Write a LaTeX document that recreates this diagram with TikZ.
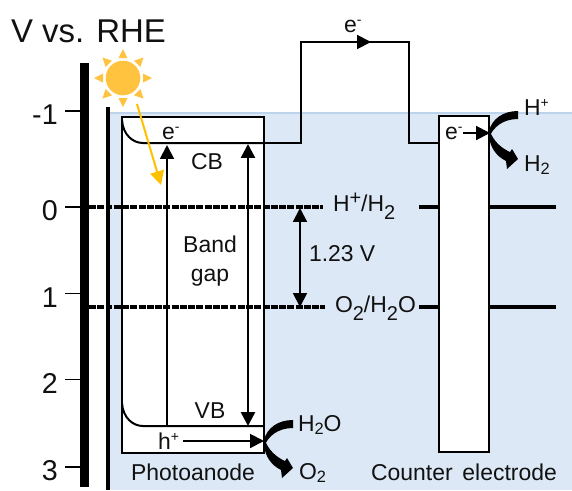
\documentclass[tikz,border=0pt]{standalone}
\usepackage{fontspec}
\setmainfont{Liberation Sans}
\usetikzlibrary{arrows.meta}
\definecolor{bgblue}{HTML}{DCE8F5}
\definecolor{edgeblue}{HTML}{BDD3EC}
\definecolor{sunfill}{HTML}{FFC33F}
\definecolor{rayarrow}{HTML}{FFC000}
\definecolor{inkk}{HTML}{111111}
\newcommand{\sbBig}[1]{\raisebox{-6pt}{\fontsize{15}{15}\selectfont #1}}
\newcommand{\spBig}[1]{\raisebox{5pt}{\fontsize{15}{15}\selectfont #1}}
\newcommand{\sbSm}[1]{\raisebox{-2.4pt}{\fontsize{12.3}{12}\selectfont #1}}
\newcommand{\spSm}[1]{\raisebox{5.4pt}{\fontsize{10.5}{12}\selectfont #1}}
\tikzset{
  wire/.style={draw=black,line width=1.5pt},
  txt/.style={font=\fontsize{17.2}{20}\selectfont,text=inkk,inner sep=0pt,outer sep=0pt},
  ticklab/.style={font=\fontsize{21.5}{24}\selectfont,text=inkk,inner sep=0pt,anchor=east},
  tickmark/.style={draw=black,line width=1.3pt},
  level/.style={draw=black,line width=2.6pt,dash pattern=on 5.2pt off 1pt},
  finelevel/.style={draw=black,line width=2.6pt},
  tip/.style={-{Triangle[length=10.4pt,width=10.4pt]}},
  bothtip/.style={{Triangle[length=10.4pt,width=10.4pt]}-{Triangle[length=10.4pt,width=10.4pt]}},
  boxnode/.style={draw=black,line width=1.5pt,fill=white,inner sep=0pt,outer sep=0pt},
  redox/.pic={
    \fill[black] (293,420) .. controls (278,420) and (267,428) .. (264,440)
      -- (264,447) .. controls (268,436) and (278,428) .. (293,428) -- cycle;
    \fill[black] (264,438) -- (264,445) .. controls (265,456) and (271,465) .. (281,470)
      -- (282,478) -- (293,468) -- (287,458) -- (285,461)
      .. controls (276,457) and (268,450) .. (264,438) -- cycle;
  }
}
\begin{document}
\begin{tikzpicture}[x=.75pt,y=-.75pt]
\useasboundingbox (0,0) rectangle (572,490);
% background
\fill[bgblue] (109,113) rectangle (572,490);
\draw[edgeblue,line width=1pt] (109,490) -- (109,113) -- (572,113);
% axes
\fill[black] (80,63) rectangle (89,487);
\coordinate (thinTop) at (108,107);
\coordinate (thinBot) at (108,490);
\draw[black,line width=2.4pt] (thinTop) -- (thinBot);
% ticks
\foreach \n/\y/\t in {m/111/-1,z/207/0,o/293.5/1,t/379.5/2,h/467/3}{
  \coordinate (tick\n) at (80,\y);
  \node[ticklab] (lab\n) at (58,\y+4) {\t};
  \draw[tickmark] (tick\n) -- ++(-15,0);
}
% boxes
\node[boxnode,minimum width=106.5pt,minimum height=252pt] (pa) at (193,285) {};
\node[boxnode,minimum width=37.5pt,minimum height=252pt] (ce) at (464,284) {};
% bands
\coordinate (cbL) at (143,143);
\coordinate (vbL) at (143,426);
\coordinate (cbR) at (264,143);
\coordinate (vbR) at (264,426);
\draw[wire] (122,120) .. controls (123,135) and (133,143) .. (cbL) -- (cbR);
\draw[wire] (122,403) .. controls (123,418) and (133,426) .. (vbL) -- (vbR);
% external wire
\coordinate (w1) at (301,143);
\coordinate (w2) at (301,42);
\coordinate (w3) at (409,42);
\coordinate (w4) at (409,143);
\coordinate (ceIn) at (439,143);
\coordinate (wMid) at (371,42);
\draw[wire] (cbR) -- (w1) -- (w2) -- (w3) -- (w4) -- (ceIn);
\draw[wire,tip] (w2) -- (wMid);
% levels
\coordinate (l0a) at (89,207); \coordinate (l0b) at (323,207);
\coordinate (l1a) at (89,307); \coordinate (l1b) at (325,307);
\draw[level] (l0a) -- (l0b);
\draw[level] (l1a) -- (l1b);
\draw[finelevel] (419,207) -- (ce.west |- l0a);
\draw[finelevel] (419,307) -- (ce.west |- l1a);
\draw[finelevel] (ce.east |- l0a) -- (556,207);
\draw[finelevel] (ce.east |- l1a) -- (556,307);
% vertical arrows
\coordinate (a1) at (167,426); \coordinate (a1t) at (167,145);
\draw[wire,tip] (a1) -- (a1t);
\coordinate (a2t) at (248,144); \coordinate (a2b) at (248,426);
\draw[black,line width=1.9pt,bothtip] (a2t) -- (a2b);
\coordinate (v0) at (300,208); \coordinate (v1) at (300,307);
\draw[wire,bothtip] (v0) -- (v1);
% sun
\fill[white] (123,78) circle (20);
\fill[sunfill] (123,78) circle (17.3);
\foreach \r in {0,45,...,315}{
  \fill[sunfill,rotate around={\r:(123,78)}] (118.5,58) -- (127.5,58) -- (123,49) -- cycle;
}
% sun ray
\coordinate (s1) at (137,104); \coordinate (s2) at (161,185);
\draw[draw=rayarrow,fill=rayarrow,line width=1.5pt,tip] (s1) -- (s2);
% labels
\node[txt,font=\fontsize{24.7}{28}\selectfont] (title) at (88.5,31) {V vs. RHE};
\node[txt,anchor=base west] (eCB) at (162,139) {e\spSm{-}};
\node[txt] (cb) at (207,162) {CB};
\node[txt] (vb) at (210,411) {VB};
\node[txt] (band) at (210,244) {Band};
\node[txt] (gap) at (210,278) {gap};
\node[txt,anchor=base west] (hplus) at (158,449) {h\spSm{+}};
\coordinate (hEnd) at (264,441);
\draw[wire,tip] (183,441) -- (hEnd);
\node[txt] (photo) at (193,472) {Photoanode};
\node[txt] (counter) at (464,472) {Counter\hspace{.15em} electrode};
\node[txt,anchor=base west] (eTop) at (344,32) {e\spSm{-}};
\node[txt,anchor=base west] (eCE) at (445,139) {e\spSm{-}};
\coordinate (eEnd) at (490,133);
\draw[wire,tip] (463,133) -- (eEnd);
\node[txt,anchor=west] (volt) at (309,254) {1.23 V};
\node[txt,anchor=base west] (hh) at (333,211) {H\spBig{+}/H\sbBig{2}};
\node[txt,anchor=base west] (oo) at (335,312) {O\sbBig{2}/H\sbBig{2}O};
\node[txt,anchor=base west] (water) at (298,431) {H\sbSm{2}O};
\node[txt,anchor=base west] (oxy) at (299,479) {O\sbSm{2}};
\node[txt,anchor=base west] (hp) at (524,115) {H\spSm{+}};
\node[txt,anchor=base west] (hy) at (524,171) {H\sbSm{2}};
% redox arrows
\pic {redox};
\begin{scope}[shift={(225,-309)}]
\pic {redox};
\end{scope}
\end{tikzpicture}
\end{document}
